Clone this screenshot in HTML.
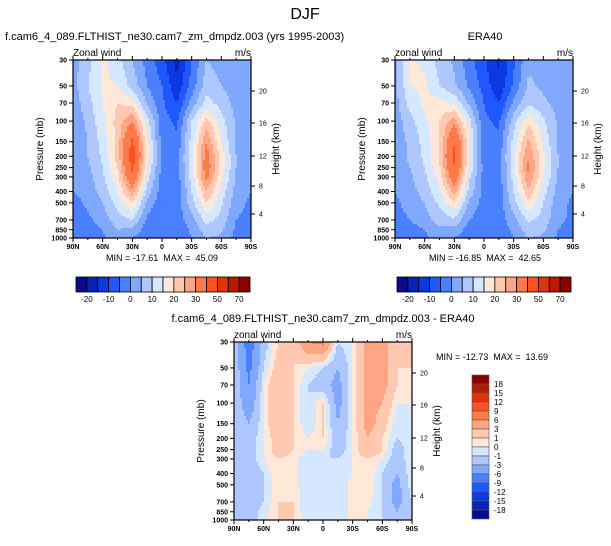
<!DOCTYPE html>
<html><head><meta charset="utf-8">
<style>
body{margin:0;background:#fff;width:611px;height:541px;overflow:hidden;font-family:"Liberation Sans",Arial,sans-serif}
svg text{font-family:"Liberation Sans",Arial,sans-serif;white-space:pre}
</style></head>
<body>
<svg id="fig" width="611" height="541" xmlns="http://www.w3.org/2000/svg">
<text x="305" y="19" font-size="16" text-anchor="middle">DJF</text>
</svg>
<script>
const lats=["90N","60N","30N","0","30S","60S","90S"];
const pLevels=[30,50,70,100,150,200,250,300,400,500,700,850,1000];
const heightTicks=[20,16,12,8,4];
const heightPos=[91,123,156,186,214];
const levelsAbs=[-20,-15,-10,-5,0,5,10,15,20,25,30,40,50,60,70];
const absLabels=["-20","-10","0","10","20","30","50","70"];
const levelsDiff=[-18,-15,-12,-9,-6,-3,-1,0,1,3,6,9,12,15,18];
const colors=["#0a0a8c","#0a22b8","#0a3ae0","#1f58ff","#4a80ff","#80a8ff","#aec8ff","#d6e8ff","#ffe8d8","#ffc8b0","#ffa584","#ff7a48","#ff5020","#e03408","#b81a00","#8c0000"];
// rows: 30..1000 mb ; cols: 90N,75N,...,90S (15 deg)
const camU=[
[3,8,16,12,5,-2,-8,-17,-5,5,3,2,1],
[3,10,16,15,8,0,-5,-14,-3,8,5,2,1],
[2,8,15,20,18,4,-4,-10,2,12,8,3,2],
[2,6,14,22,30,12,-3,-6,10,22,12,4,2],
[2,5,12,22,42,16,-2,-4,12,30,15,4,2],
[2,5,11,22,45,17,-2,-3,14,33,18,5,2],
[2,4,10,20,42,15,-2,-3,13,34,18,5,2],
[1,3,9,18,38,12,-2,-3,12,32,16,4,1],
[0,2,7,15,28,8,-3,-4,10,25,13,3,0],
[-2,1,5,12,20,3,-3,-3,8,20,11,2,-1],
[-3,-1,2,8,10,-1,-4,-3,3,12,8,0,-2],
[-3,-3,0,5,4,-3,-5,-4,1,8,6,-1,-3],
[-3,-4,-1,3,0,-4,-5,-4,0,5,4,-2,-3]];
const eraU=[
[4,16,14,8,4,-3,-9,-16,-6,4,3,2,2],
[3,15,16,10,6,-1,-7,-14,-4,6,4,2,1],
[3,12,16,17,14,4,-5,-10,1,9,6,3,2],
[2,8,14,20,28,12,-4,-6,8,19,11,4,2],
[2,6,12,20,40,16,-3,-4,12,26,14,4,2],
[2,6,11,21,42,16,-3,-3,14,30,16,5,2],
[2,5,10,19,40,14,-2,-3,13,31,16,5,2],
[1,4,9,17,36,11,-2,-3,12,30,15,4,1],
[0,3,7,14,27,8,-2,-3,10,24,12,3,0],
[-1,2,5,11,19,4,-2,-3,8,19,10,2,-1],
[-2,0,3,7,9,0,-3,-3,3,11,8,1,-1],
[-2,-2,0,4,3,-2,-4,-3,1,8,6,0,-2],
[-2,-3,-1,2,0,-3,-4,-3,0,5,4,-1,-2]];
const diffU=[
[-1,-8,-2,1,1,6,7,-1,0,4,4,1,1],
[-1,-7,-1,2,1,0,-1,-3,0,4,4,1,1],
[-1,-6,0,3,1,-1,-2,-4,0,4,4,1,0],
[-1,-5,0,3,1,-1,1,-4,0,4,3,0,0],
[-1,-3,0,3,1,-1,1,-3,0,4,2,-1,0],
[-1,-2,0,2,1,0,1,-2,0,3,1,-1,0],
[-1,-2,0,2,1,0,0,-2,0,3,1,-2,0],
[-1,-2,0,1,0.5,-1,-1,-1,0,1,0,-2,0],
[-2,-2,-1,1,0.5,-1,-1,-1,0,1,-1,-3,0],
[-2,-2,-1,1,0.5,-1,-1,-1,0.5,1,-1,-4,0],
[-2,-2,-1,1,1,-1,-1,-1,0.5,0.5,-1,-4,-1],
[-2,-2,-0.5,1,1,-1,-1,-1,0.5,0,-1,-3,-1],
[-2,-2,-0.5,1,1,-0.5,-1,-1,0.5,0,-1,-2,-1]];

const NS="http://www.w3.org/2000/svg";
const fig=document.getElementById('fig');
function mk(tag,attrs,parent){const e=document.createElementNS(NS,tag);for(const k in attrs)e.setAttribute(k,attrs[k]);(parent||fig).appendChild(e);return e;}
function txt(x,y,s,size,anchor,parent){const t=mk('text',{x:x,y:y,'font-size':size,'text-anchor':anchor||'start'},parent);t.textContent=s;return t;}
function colorIdx(v,levels){let i=0;while(i<levels.length&&v>=levels[i])i++;return i;}
function logFrac(p){return Math.log(p/30)/Math.log(1000/30);}

function panel(name,px,py,W,H,data,levels,title,titleX,titleAnchor,sub){
  const g=mk('g',{});
  
  
  const ys=p=>py+logFrac(p)*H;
  const rowY=pLevels.map(p=>logFrac(p));
  const step=2;
  const field=mk('g',{},g);
  
  
  for(let yy=0;yy<H;yy+=step){
    const f=(yy+step/2)/H;
    let r=0;while(r<rowY.length-2&&f>rowY[r+1])r++;
    let ty=(f-rowY[r])/(rowY[r+1]-rowY[r]);ty=Math.max(0,Math.min(1,ty));
    let runStart=0;
    const cols=[];
    for(let xx=0;xx<W;xx+=step){
      const fx=(xx+step/2)/W*12;let c=Math.min(11,Math.floor(fx));const tx=fx-c;
      const v=(data[r][c]*(1-tx)+data[r][c+1]*tx)*(1-ty)+(data[r+1][c]*(1-tx)+data[r+1][c+1]*tx)*ty;
      cols.push(colorIdx(v,levels));
    }
    for(let i=0;i<=cols.length;i++){
      if(i===cols.length||cols[i]!==cols[runStart]){
        const rc=mk('rect',{x:px+runStart*step,y:py+yy,width:Math.min((i-runStart)*step,W-runStart*step)+0.3,height:Math.min(step,H-yy)+0.3,fill:colors[cols[runStart]]},field);
        
        
        runStart=i;
      }
    }
  }
  const fr=mk('rect',{x:px,y:py,width:W,height:H,fill:'none',stroke:'#000','stroke-width':1.2},g);
  
  pLevels.forEach(p=>{const y=ys(p);mk('line',{x1:px-4,x2:px,y1:y,y2:y,stroke:'#000'},g);
    const t=txt(px-6,y+2.5,String(p),7,'end',g);t.setAttribute('font-weight','bold');
    });
  heightTicks.forEach((h,i)=>{const y=heightPos[i]+(py-60);mk('line',{x1:px+W,x2:px+W+4,y1:y,y2:y,stroke:'#000'},g);
    const t=txt(px+W+8,y+2.5,String(h),7,'start',g);});
  for(let k=0;k<=12;k++){const x=px+k*W/12;const len=k%2===0?4:2;
    mk('line',{x1:x,x2:x,y1:py+H,y2:py+H+len,stroke:'#000'},g);mk('line',{x1:x,x2:x,y1:py,y2:py-len,stroke:'#000'},g);}
  lats.forEach((l,i)=>{const t=txt(px+i*W/6,py+H+11,l,7,'middle',g);t.setAttribute('font-weight','bold');
    });
  let t=txt(px-30,py+H/2,'Pressure (mb)',10,'middle',g);t.setAttribute('transform',`rotate(-90 ${px-30} ${py+H/2})`);
  
  t=txt(px+W+28,py+H/2,'Height (km)',10,'middle',g);t.setAttribute('transform',`rotate(-90 ${px+W+28} ${py+H/2})`);
  
  t=txt(px,py-4,sub,10,'start',g);
  t=txt(px+W,py-4,'m/s',10,'end',g);
  t=txt(titleX,py-20,title,11,titleAnchor,g);
  return g;
}
function hbar(name,x0,y0,w,h){
  const g=mk('g',{});
  const bw=w/16;
  colors.forEach((c,i)=>{const r=mk('rect',{x:x0+i*bw,y:y0,width:bw,height:h,fill:c,stroke:'#000','stroke-width':0.8},g);
    });
  absLabels.forEach((s,i)=>{const t=txt(x0+(2*i+1)*bw,y0+h+10,s,8,'middle',g);
    });
}
function minmax(x,y,s,anchor){const t=txt(x,y,s,9,anchor);t.setAttribute('xml:space','preserve');}

panel('model-panel',73,60,178,178,camU,levelsAbs,'f.cam6_4_089.FLTHIST_ne30.cam7_zm_dmpdz.003 (yrs 1995-2003)',5,'start','Zonal wind');
minmax(162,261,'MIN = -17.61  MAX =  45.09','middle');
hbar('model-colorbar',76,277,174,15);
panel('era40-panel',395,60,178,178,eraU,levelsAbs,'ERA40',485,'middle','zonal wind');
minmax(485,261,'MIN = -16.85  MAX =  42.65','middle');
hbar('era40-colorbar',397,277,174,15);
panel('difference-panel',234,342,178,178,diffU,levelsDiff,'f.cam6_4_089.FLTHIST_ne30.cam7_zm_dmpdz.003 - ERA40',323,'middle','zonal wind');
minmax(436,360,'MIN = -12.73  MAX =  13.69','start');
(function(){
  const g=mk('g',{});
  const x0=472,y0=375,w=17,H=144,bh=H/16;
  colors.slice().reverse().forEach((c,i)=>{const r=mk('rect',{x:x0,y:y0+i*bh,width:w,height:bh,fill:c,stroke:'#555','stroke-width':0.6},g);
    });
  levelsDiff.slice().reverse().forEach((v,i)=>{const t=txt(x0+w+5,y0+(i+1)*bh+3,String(v),8,'start',g);
    });
})();
</script>
</body></html>
